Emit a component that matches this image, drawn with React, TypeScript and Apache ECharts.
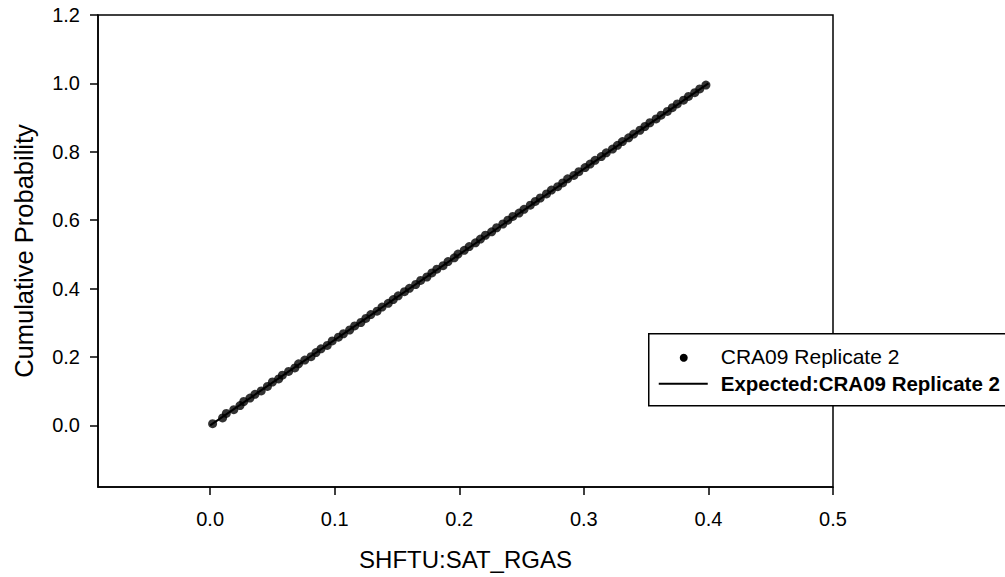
import React, { useEffect, useRef } from "react";
import * as echarts from "echarts";

const seriesName = "CRA09 Replicate 2";
const expectedName = "Expected:CRA09 Replicate 2";
const xTicks = [0, 0.1, 0.2, 0.3, 0.4, 0.5];
const yTicks = [0, 0.2, 0.4, 0.6, 0.8, 1.0, 1.2];
const observed: [number, number][] = [
  [0.002, 0.005], [0.010, 0.022], [0.013, 0.035], [0.019, 0.046], [0.024, 0.058],
  [0.027, 0.070], [0.032, 0.080], [0.036, 0.091], [0.041, 0.101], [0.046, 0.114],
  [0.050, 0.127], [0.055, 0.136], [0.058, 0.147], [0.063, 0.158], [0.068, 0.168],
  [0.071, 0.180], [0.076, 0.191], [0.081, 0.201], [0.085, 0.213], [0.089, 0.224],
  [0.094, 0.234], [0.098, 0.247], [0.103, 0.258], [0.107, 0.268], [0.112, 0.279],
  [0.116, 0.291], [0.121, 0.301], [0.125, 0.313], [0.129, 0.324], [0.134, 0.334],
  [0.138, 0.346], [0.143, 0.357], [0.147, 0.368], [0.151, 0.379], [0.156, 0.391],
  [0.160, 0.401], [0.165, 0.412], [0.169, 0.424], [0.174, 0.434], [0.178, 0.446],
  [0.182, 0.457], [0.187, 0.467], [0.191, 0.479], [0.196, 0.490], [0.199, 0.501],
  [0.204, 0.512], [0.208, 0.523], [0.213, 0.534], [0.217, 0.545], [0.221, 0.556],
  [0.226, 0.566], [0.230, 0.578], [0.235, 0.589], [0.239, 0.600], [0.243, 0.611],
  [0.248, 0.621], [0.252, 0.632], [0.257, 0.644], [0.261, 0.655], [0.265, 0.665],
  [0.270, 0.677], [0.274, 0.688], [0.279, 0.698], [0.283, 0.709], [0.287, 0.721],
  [0.292, 0.731], [0.296, 0.742], [0.301, 0.754], [0.305, 0.764], [0.309, 0.775],
  [0.314, 0.786], [0.318, 0.797], [0.323, 0.808], [0.327, 0.819], [0.331, 0.830],
  [0.336, 0.841], [0.340, 0.852], [0.345, 0.863], [0.349, 0.874], [0.353, 0.885],
  [0.358, 0.896], [0.362, 0.907], [0.367, 0.918], [0.371, 0.929], [0.375, 0.940],
  [0.380, 0.951], [0.384, 0.962], [0.389, 0.973], [0.393, 0.984], [0.398, 0.995],
];
const expected: [number, number][] = [
  [0.0, 0.0],
  [0.4, 1.0],
];

const FONT = "Liberation Sans, Arial, sans-serif";

export default function App() {
  const ref = useRef<HTMLDivElement>(null);
  useEffect(() => {
    if (!ref.current) return;
    const chart = echarts.init(ref.current, undefined, { renderer: "svg" });
    chart.setOption({
      animation: false,
      backgroundColor: "#fff",
      textStyle: { fontFamily: FONT, color: "#000" },
      grid: {
        left: 98,
        right: 172,
        top: 15,
        bottom: 90,
        show: true,
        borderColor: "#000",
        borderWidth: 1.5,
        backgroundColor: "transparent",
      },
      xAxis: {
        type: "value",
        min: -0.09,
        max: 0.5,
        name: "SHFTU:SAT_RGAS",
        nameLocation: "middle",
        nameGap: 60,
        nameTextStyle: { fontSize: 24, color: "#000", fontFamily: FONT },
        axisLine: { show: true, onZero: false, lineStyle: { color: "#000", width: 1.5 } },
        axisTick: {
          show: true,
          inside: false,
          length: 8,
          customValues: xTicks,
          lineStyle: { color: "#000", width: 1.5 },
        },
        axisLabel: {
          show: true,
          margin: 22,
          fontSize: 20,
          color: "#000",
          fontFamily: FONT,
          customValues: xTicks,
          formatter: (v: number) => v.toFixed(1),
        },
        splitLine: { show: false },
      },
      yAxis: {
        type: "value",
        min: -0.18,
        max: 1.2,
        name: "Cumulative Probability",
        nameLocation: "middle",
        nameGap: 61,
        nameTextStyle: { fontSize: 25.5, color: "#000", fontFamily: FONT },
        axisLine: { show: true, onZero: false, lineStyle: { color: "#000", width: 1.5 } },
        axisTick: {
          show: true,
          inside: false,
          length: 8,
          customValues: yTicks,
          lineStyle: { color: "#000", width: 1.5 },
        },
        axisLabel: {
          show: true,
          margin: 18,
          fontSize: 20,
          color: "#000",
          fontFamily: FONT,
          customValues: yTicks,
          formatter: (v: number) => v.toFixed(1),
        },
        splitLine: { show: false },
      },
      series: [
        {
          name: expectedName,
          type: "line",
          data: expected,
          showSymbol: false,
          symbol: "none",
          lineStyle: { color: "#000", width: 2 },
          z: 2,
        },
        {
          name: seriesName,
          type: "scatter",
          data: observed,
          symbol: "circle",
          symbolSize: 9,
          itemStyle: { color: "#000" },
          z: 3,
        },
      ],
      graphic: [
        {
          type: "group",
          left: 648,
          top: 333,
          z: 100,
          children: [
            {
              type: "rect",
              shape: { x: 0, y: 0, width: 370, height: 72 },
              style: { fill: "#fff", stroke: "#000", lineWidth: 1.5 },
            },
            {
              type: "circle",
              shape: { cx: 35, cy: 24, r: 4 },
              style: { fill: "#000" },
            },
            {
              type: "text",
              x: 72,
              y: 23,
              style: {
                text: seriesName,
                fontSize: 21,
                fontFamily: FONT,
                fill: "#000",
                verticalAlign: "middle",
              },
            },
            {
              type: "line",
              shape: { x1: 10, y1: 50, x2: 59, y2: 50 },
              style: { stroke: "#000", lineWidth: 2 },
            },
            {
              type: "text",
              x: 72,
              y: 50,
              style: {
                text: expectedName,
                fontSize: 20.5,
                fontWeight: "bold",
                fontFamily: FONT,
                fill: "#000",
                verticalAlign: "middle",
              },
            },
          ],
        },
      ],
    });
    return () => chart.dispose();
  }, []);
  return (
    <div
      ref={ref}
      style={{ position: "fixed", left: 0, top: 0, width: 1005, height: 577 }}
    />
  );
}
